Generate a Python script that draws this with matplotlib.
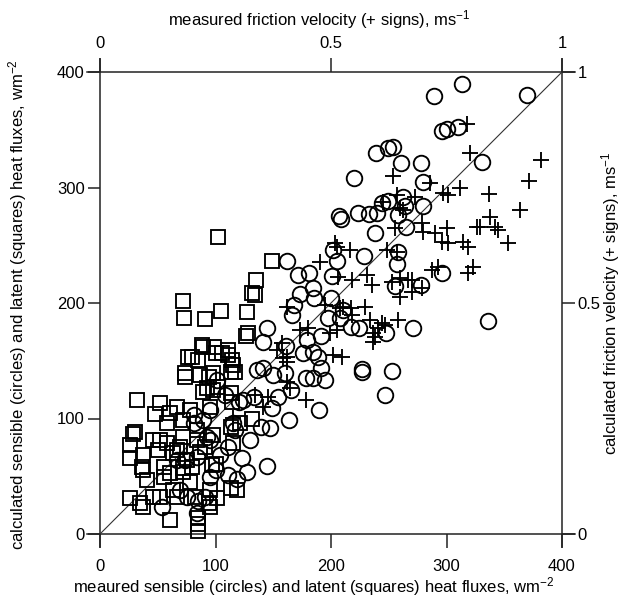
import matplotlib
matplotlib.use("Agg")
import matplotlib.pyplot as plt
import numpy as np

plt.rcParams['font.family'] = ['Liberation Sans', 'DejaVu Sans']
plt.rcParams['mathtext.fontset'] = 'custom'
plt.rcParams['mathtext.rm'] = 'Liberation Sans'
plt.rcParams['mathtext.it'] = 'Liberation Sans'

# Sensible heat flux (circles): measured, calculated  [W m-2]
sens_meas = [313, 289, 370, 296, 300, 310, 239, 249, 254, 261, 278, 331, 220, 280,
             262, 244, 249, 264, 280, 207, 209, 223, 233, 240, 258, 265, 238, 202,
             205, 229, 258, 257, 296, 278, 255, 162, 171, 181, 201, 184, 173, 185,
             200, 168, 210, 166, 197, 208, 217, 224, 248, 271, 336, 145, 141, 161,
             179, 191, 184, 189, 176, 136, 141, 150, 160, 178, 184, 191, 195, 227,
             227, 253, 247, 190, 165, 154, 149, 133, 124, 120, 164, 139, 147, 115,
             117, 111, 123, 127, 119, 111, 145, 84, 69, 75, 54, 85, 95, 89, 81, 93,
             95, 101, 91, 67, 84, 81, 95, 104, 108, 130, 100, 74]
sens_calc = [390, 379, 380, 349, 351, 352, 330, 334, 335, 321, 321, 322, 308, 305,
             292, 287, 288, 284, 284, 275, 273, 278, 277, 278, 276, 266, 261, 246,
             236, 241, 244, 234, 226, 216, 215, 236, 224, 226, 223, 213, 208, 204,
             204, 198, 194, 190, 187, 187, 179, 178, 174, 178, 184, 178, 166, 163,
             168, 171, 158, 153, 157, 142, 144, 138, 139, 135, 135, 144, 133, 143,
             140, 141, 120, 107, 125, 119, 109, 119, 116, 114, 99, 93, 92, 96,
             90, 75, 66, 54, 48, 51, 59, 18, 38, 32, 23, 29, 49, 99, 96, 84,
             107, 133, 32, 64, 67, 103, 81, 68, 120, 81, 55, 64]

# Latent heat flux (squares): measured, calculated  [W m-2]
lat_meas = [102, 149, 135, 132, 134, 72, 73, 91, 105, 127, 128, 126, 89, 99, 106,
            111, 114, 80, 85, 74, 117, 98, 88, 76, 100, 111, 115, 74, 87, 94, 93,
            98, 102, 114, 32, 52, 48, 61, 67, 78, 30, 29, 26, 26, 37, 46, 50, 58,
            67, 72, 84, 87, 91, 37, 41, 55, 61, 72, 80, 97, 95, 82, 67, 26, 35,
            37, 61, 85, 85, 85, 94, 113, 52, 115, 132, 121, 113, 36, 89, 95, 113,
            113, 58, 72, 84, 98, 52, 69, 100, 119, 101, 95, 55, 72, 78, 46, 63,
            63, 75]
lat_calc = [257, 236, 220, 209, 207, 202, 187, 186, 193, 192, 174, 171, 162, 162,
            157, 159, 151, 153, 151, 139, 140, 139, 164, 153, 157, 155, 146, 136,
            138, 136, 126, 125, 127, 114, 116, 113, 104, 105, 110, 107, 88, 87, 77,
            66, 68, 81, 73, 79, 73, 84, 81, 71, 75, 55, 47, 58, 53, 57, 58, 60,
            38, 32, 32, 31, 27, 23, 12, 14, 3, 9, 27, 40, 32, 79, 100, 96, 93,
            58, 123, 110, 140, 122, 96, 99, 90, 86, 81, 75, 61, 38, 31, 23, 49,
            54, 45, 32, 38, 70, 64]

# Friction velocity (plus signs): measured, calculated  [m s-1]
ustar_meas = [0.794, 0.801, 0.955, 0.929, 0.634, 0.714, 0.742, 0.753, 0.779, 0.842,
              0.909, 0.682, 0.649, 0.697, 0.699, 0.725, 0.751, 0.740, 0.753, 0.786,
              0.797, 0.816, 0.844, 0.855, 0.861, 0.883, 0.807, 0.797, 0.719, 0.732,
              0.621, 0.643, 0.667, 0.649, 0.632, 0.675, 0.697, 0.649, 0.645, 0.617,
              0.823, 0.639, 0.541, 0.509, 0.476, 0.515, 0.545, 0.578, 0.589, 0.675,
              0.574, 0.519, 0.543, 0.545, 0.405, 0.487, 0.584, 0.602, 0.591, 0.513,
              0.498, 0.383, 0.394, 0.405, 0.405, 0.504, 0.524, 0.591, 0.411, 0.446,
              0.364, 0.335, 0.353, 0.405, 0.288, 0.513, 0.526, 0.610, 0.595, 0.433,
              0.450, 0.396, 0.643, 0.613, 0.656]
ustar_calc = [0.887, 0.825, 0.810, 0.764, 0.775, 0.760, 0.738, 0.734, 0.749, 0.736,
              0.701, 0.729, 0.706, 0.673, 0.654, 0.652, 0.662, 0.632, 0.630, 0.632,
              0.621, 0.665, 0.686, 0.665, 0.658, 0.630, 0.578, 0.565, 0.571, 0.578,
              0.615, 0.610, 0.550, 0.554, 0.545, 0.524, 0.532, 0.513, 0.463, 0.452,
              0.665, 0.662, 0.615, 0.630, 0.589, 0.556, 0.550, 0.561, 0.539, 0.550,
              0.491, 0.489, 0.489, 0.474, 0.491, 0.496, 0.463, 0.446, 0.435, 0.442,
              0.435, 0.398, 0.413, 0.383, 0.372, 0.387, 0.383, 0.416, 0.316, 0.290,
              0.297, 0.301, 0.275, 0.329, 0.251, 0.621, 0.491, 0.457, 0.426, 0.442,
              0.446, 0.381, 0.734, 0.719, 0.701]

flux_ticks = [0, 100, 200, 300, 400]
ustar_ticks = [0, 0.5, 1]
ustar_ticklabels = ['0', '0.5', '1']

W, H = 621, 597
fig = plt.figure(figsize=(W / 100, H / 100), dpi=100)
pos = [100 / W, 1 - 534 / H, 462 / W, 462 / H]
ax = fig.add_axes(pos)
ax2 = fig.add_axes(pos, frameon=False)

mew = 1.35
ax.plot([0, 400], [0, 400], color='#333333', lw=0.8, zorder=1)
ax.plot(sens_meas, sens_calc, 'o', ms=11.2, mfc='none', mec='black', mew=mew, clip_on=False)
ax.plot(lat_meas, lat_calc, 's', ms=10.3, mfc='none', mec='black', mew=mew, clip_on=False)
ax2.plot(ustar_meas, ustar_calc, '+', ms=11.5, color='black', mew=mew, clip_on=False)

ax.set_xlim(0, 400)
ax.set_ylim(0, 400)
ax2.set_xlim(0, 1)
ax2.set_ylim(0, 1)

for s in ax.spines.values():
    s.set_visible(False)
ext = 13 / 462
for (x0, x1, y0, y1) in [(-ext, 1 + ext, 0, 0), (-ext, 1 + ext, 1, 1),
                         (0, 0, -ext, 1 + ext), (1, 1, -ext, 1 + ext)]:
    ax.plot([x0, x1], [y0, y1], transform=ax.transAxes, color='#222222', lw=1.1,
            clip_on=False, zorder=0)

ax.set_xticks(flux_ticks)
ax.set_yticks(flux_ticks)
ax.tick_params(axis='x', direction='out', length=10, width=1.1, color='#222222',
               labelsize=12, pad=8)
ax.tick_params(axis='y', direction='out', length=9, width=1.1, color='#222222',
               labelsize=12, pad=2)

ax2.xaxis.tick_top()
ax2.yaxis.tick_right()
ax2.set_xticks(ustar_ticks)
ax2.set_xticklabels(ustar_ticklabels)
ax2.set_yticks(ustar_ticks)
ax2.set_yticklabels(ustar_ticklabels)
ax2.tick_params(axis='x', direction='out', length=10, width=1.1, color='#222222',
                labelsize=12, pad=5)
ax2.tick_params(axis='y', direction='out', length=9, width=1.1, color='#222222',
                labelsize=12, pad=2)

lab_fs = 12
fig.text(314 / W, 1 - 587 / H,
         'meaured sensible (circles) and latent (squares) heat fluxes, wm$^{-2}$',
         fontsize=lab_fs, ha='center', va='center')
fig.text(18 / W, 1 - 305 / H,
         'calculated sensible (circles) and latent (squares) heat fluxes, wm$^{-2}$',
         fontsize=lab_fs, ha='center', va='center', rotation=90)
fig.text(319 / W, 1 - 20 / H, 'measured friction velocity (+ signs), ms$^{-1}$',
         fontsize=lab_fs, ha='center', va='center')
fig.text(611 / W, 1 - 303 / H, 'calculated friction velocity (+ signs), ms$^{-1}$',
         fontsize=lab_fs, ha='center', va='center', rotation=90)

fig.savefig('out.png', dpi=100)
